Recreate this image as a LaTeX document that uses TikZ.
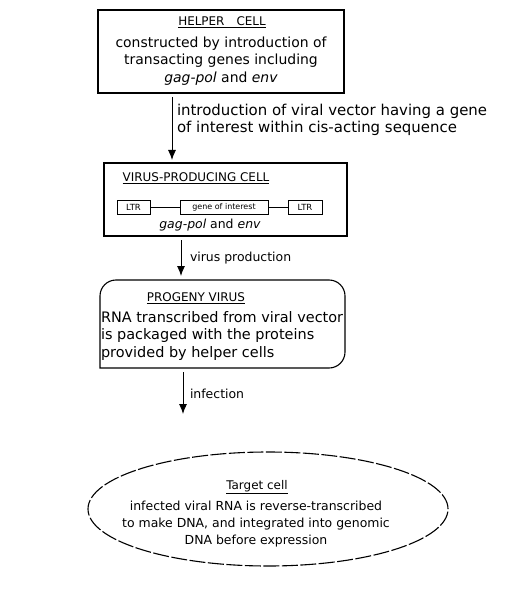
\documentclass[tikz,border=0pt]{standalone}
\usepackage{fontspec}
\setmainfont{DejaVu Sans}
\usepackage{tikz}
\usetikzlibrary{shapes,arrows.meta,calc}

\begin{document}
\begin{tikzpicture}[x=1bp,y=-1bp,
  every node/.style={font=\fontsize{14}{17.5}\selectfont, inner sep=0, outer sep=0},
  title/.style={font=\fontsize{12}{14}\selectfont},
  note/.style={font=\fontsize{12.5}{17.5}\selectfont},
  box/.style={draw, line width=1.1bp},
  genebox/.style={draw, line width=0.8bp, font=\fontsize{8.5}{10}\selectfont},
  flow/.style={line width=0.9bp, -{Latex[length=10bp,width=8bp]}}]
  \useasboundingbox (0,0) rectangle (518,598);

  % helper cell
  \node [box, minimum width=246bp, minimum height=83bp] (helper) at (221,51.5) {};
  \node [title] (helpertitle) at (222,22) {\underline{HELPER\quad CELL}};
  \node [align=center] (helpertext) at (221,61) {constructed by introduction of\\ transacting genes including\\ \textit{gag-pol} and \textit{env}};

  % virus-producing cell
  \node [box, minimum width=243bp, minimum height=73bp] (virus) at (225.5,199.5) {};
  \node [title] (virustitle) at (196,178) {\underline{VIRUS-PRODUCING CELL}};
  \node [genebox, minimum width=33bp, minimum height=14bp] (ltrleft) at (133.5,207) {LTR};
  \node [genebox, minimum width=88bp, minimum height=14bp, font=\fontsize{8}{10}\selectfont] (gene) at (224,207) {gene of interest};
  \node [genebox, minimum width=34bp, minimum height=14bp] (ltrright) at (305,207) {LTR};
  \draw (ltrleft)--(gene);
  \draw (gene)--(ltrright);
  \node [note] (virusgenes) at (210,225) {\textit{gag-pol} and \textit{env}};

  \coordinate (a1) at (172,0);
  \draw [flow, shorten <=4bp, shorten >=3bp] (helper.south -| a1)--(virus.north -| a1);
  \node [anchor=west, align=left, font=\fontsize{15}{17.5}\selectfont] (vectorlabel) at (177,120) {introduction of viral vector having a gene\\ of interest within cis-acting sequence};

  % progeny virus
  \node [minimum width=245bp, minimum height=88bp] (progeny) at (222.5,324) {};
  \draw [line width=1.1bp] (progeny.south west) [rounded corners=16bp] |- (progeny.north) -| (progeny.south east) [sharp corners] -- cycle;
  \node [title] (progenytitle) at (196,298) {\underline{PROGENY VIRUS}};
  \node [anchor=west, align=left, font=\fontsize{14.5}{17.5}\selectfont] (progenytext) at (101,336) {RNA transcribed from viral vector\\ is packaged with the proteins\\ provided by helper cells};

  \coordinate (a2) at (181,0);
  \draw [flow, shorten <=4bp, shorten >=4bp] (virus.south -| a2)--(progeny.north -| a2);
  \node [note, anchor=west] (prodlabel) at (190,258) {virus production};

  % target cell
  \node [ellipse, draw, line width=1.1bp, dash pattern=on 16bp off 2.5bp, minimum width=360bp, minimum height=114bp] (target) at (268,509) {};
  \node [title] (targettitle) at (257,487) {\underline{Target cell}};
  \node [note, align=center] (targettext) at (256,524) {infected viral RNA is reverse-transcribed\\ to make DNA, and integrated into genomic\\ DNA before expression};

  \coordinate (a3) at (183,0);
  \draw [flow, shorten <=4bp, shorten >=38bp] (progeny.south -| a3)--(target.north -| a3);
  \node [note, anchor=west] (infectlabel) at (190,394) {infection};
\end{tikzpicture}
\end{document}
